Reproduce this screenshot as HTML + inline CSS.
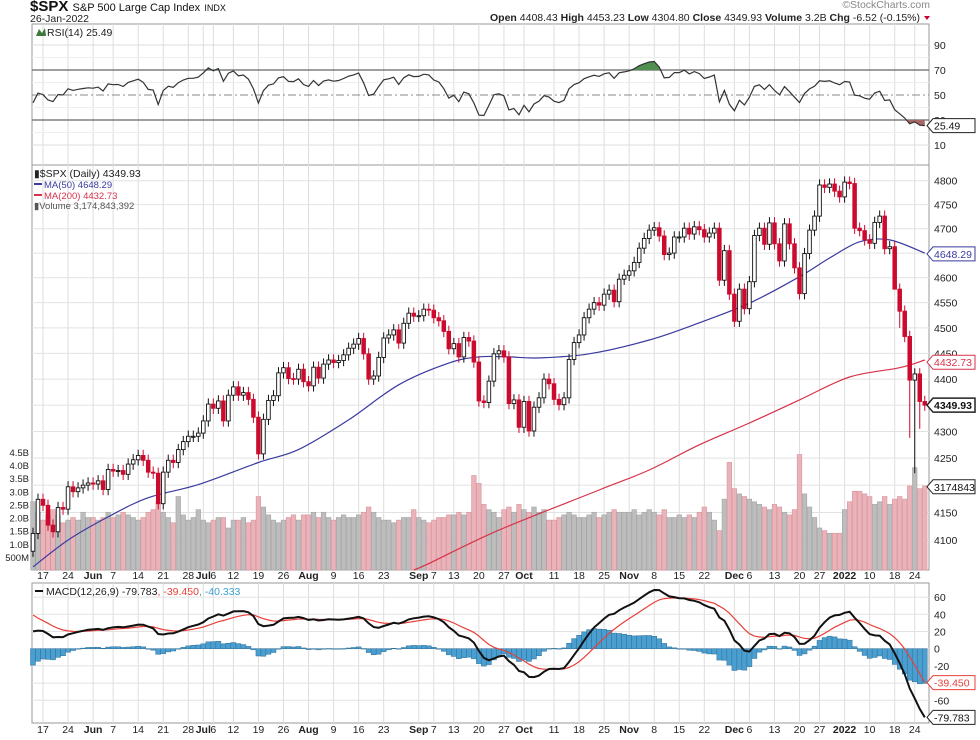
<!DOCTYPE html>
<html><head><meta charset="utf-8"><style>
html,body{margin:0;padding:0;background:#fff;}
svg{display:block;font-family:"Liberation Sans",sans-serif;}
</style></head><body>
<svg id="chart" width="980" height="740" viewBox="0 0 980 740" xmlns="http://www.w3.org/2000/svg">
<rect width="980" height="740" fill="#fff"/>
<g>
<text x="30" y="11" font-size="15" font-weight="bold" fill="#111">$SPX <tspan font-size="11" font-weight="normal">S&amp;P 500 Large Cap Index</tspan> <tspan font-size="9" font-weight="normal">INDX</tspan></text>
<text x="30" y="22" font-size="10.5" fill="#222">26-Jan-2022</text>
<text x="930" y="8" font-size="10.5" fill="#888" text-anchor="end">©StockCharts.com</text>
<text x="920" y="21" font-size="10.5" fill="#222" text-anchor="end"><tspan font-weight="bold">Open</tspan> 4408.43 <tspan font-weight="bold">High</tspan> 4453.23 <tspan font-weight="bold">Low</tspan> 4304.80 <tspan font-weight="bold">Close</tspan> 4349.93 <tspan font-weight="bold">Volume</tspan> 3.2B <tspan font-weight="bold">Chg</tspan> -6.52 (-0.15%)</text>
<path d="M924,16 L930,16 L927,20 Z" fill="#c03"/>
</g>
<g id="grid"></g>
<g id="marks"></g>
<g id="labels" font-size="10.5" fill="#222"></g>
</svg>
<script>
// ---- data ----
const holidays = ["2021-05-31","2021-07-05","2021-09-06","2021-11-25","2021-12-24","2022-01-17"];
const closes = [
4112,4174,4163,4127,4115,4159,4156,4197,4188,4195,4200,4204,
4202,4208,4192,4229,4226,4227,4220,4239,4247,4255,4246,4224,4222,4166,4224,4246,4242,4266,4281,4291,4291,4297,
4320,4352,4344,4358,4320,4369,4385,4369,4374,4361,4327,4258,4323,4359,4368,4412,4422,4401,4400,4419,4395,
4387,4423,4402,4429,4437,4432,4436,4447,4460,4468,4479,4449,4400,4406,4442,4480,4486,4496,4470,4509,4529,4523,
4524,4537,4535,4520,4514,4493,4459,4469,4443,4481,4474,4433,4358,4355,4396,4449,4455,4443,4353,4360,4308,
4357,4301,4346,4364,4400,4391,4361,4351,4364,4438,4471,4486,4520,4537,4550,4545,4567,4575,4552,4597,4605,
4614,4631,4660,4680,4697,4702,4685,4647,4650,4683,4683,4701,4689,4704,4698,4683,4691,4701,4595,4655,4567,
4513,4577,4538,4592,4686,4701,4668,4712,4669,4634,4710,4669,4620,4568,4649,4697,4726,4791,4786,4793,4778,4766,
4797,4794,4701,4696,4677,4670,4713,4726,4659,4663,4577,4533,4483,4398,4410,4357,4350];
const volumes = [
2.6,2.2,1.9,2.1,2.3,2.1,1.8,1.9,2.0,1.9,2.2,2.0,
2.0,1.9,2.0,2.2,2.0,2.1,2.2,2.1,2.0,1.9,2.0,2.2,2.3,2.6,2.2,2.0,1.8,2.8,2.1,1.9,2.0,2.3,
1.9,1.8,1.9,2.0,2.0,1.6,1.9,1.9,2.0,1.8,1.9,2.8,2.4,2.1,1.9,1.8,1.9,2.0,2.1,1.9,2.1,
2.1,2.2,2.0,2.2,2.0,1.9,2.0,2.1,2.0,2.0,2.1,2.2,2.4,2.2,2.0,1.9,1.9,1.8,1.9,2.0,2.0,2.3,
2.0,1.9,1.8,1.9,2.0,2.0,2.1,2.1,2.2,2.1,2.2,3.6,3.3,2.5,2.3,2.2,2.0,2.3,2.4,2.2,2.5,
2.3,2.2,2.4,2.2,2.3,1.9,1.9,2.0,2.1,2.2,2.1,2.0,2.0,2.1,2.2,2.0,2.1,2.2,2.3,2.2,2.2,
2.2,2.3,2.1,2.2,2.3,2.2,2.1,2.3,2.0,2.0,2.1,2.0,2.1,2.0,2.2,2.4,2.2,1.9,1.5,2.7,4.1,
3.1,2.9,2.8,2.7,2.6,2.5,2.4,2.3,2.5,2.4,2.2,2.1,2.3,4.4,2.9,2.4,2.0,1.6,1.5,1.4,1.4,1.4,
2.3,2.6,3.0,3.0,2.9,2.8,2.5,2.6,2.8,2.5,2.7,2.8,2.7,3.2,3.9,3.1,3.2];
const lowOverride = {176:4222, 177:4305, 172:4582, 173:4500, 175:4288};
const ma50Idx = [0,7,15,23,33,45,53,63,73,83,89,95,101,111,123,133,143,153,159,165,171,178];
const ma50Val = [4052,4100,4142,4177,4201,4242,4266,4322,4389,4431,4443,4443,4441,4449,4476,4510,4549,4602,4640,4673,4677,4650];
const ma200Idx = [76,79,93,113,123,133,143,153,163,173,178];
const ma200Val = [4045,4058,4118,4191,4228,4275,4316,4360,4404,4422,4437];
const labelDates = ["2021-05-17","2021-05-24","2021-06-01","2021-06-07","2021-06-14","2021-06-21","2021-06-28","2021-07-01","2021-07-06","2021-07-12","2021-07-19","2021-07-26","2021-08-02","2021-08-09","2021-08-16","2021-08-23","2021-09-01","2021-09-07","2021-09-13","2021-09-20","2021-09-27","2021-10-01","2021-10-11","2021-10-18","2021-10-25","2021-11-01","2021-11-08","2021-11-15","2021-11-22","2021-12-01","2021-12-06","2021-12-13","2021-12-20","2021-12-27","2022-01-03","2022-01-10","2022-01-18","2022-01-24"];
const labelText = ["17","24","Jun","7","14","21","28","Jul","6","12","19","26","Aug","9","16","23","Sep","7","13","20","27","Oct","11","18","25","Nov","8","15","22","Dec","6","13","20","27","2022","10","18","24"];
const priceTicks = [4100,4150,4200,4250,4300,4350,4400,4450,4500,4550,4600,4650,4700,4750,4800];
const volTicks = [0.5,1,1.5,2,2.5,3,3.5,4,4.5];
const volTickText = ["500M","1.0B","1.5B","2.0B","2.5B","3.0B","3.5B","4.0B","4.5B"];
const rsiTicks = [10,30,50,70,90];
const macdTicks = [-60,-40,-20,0,20,40,60];

// ---- scales ----
const L=32, Rr=929;
const X = i => 43 + (i-2)*5.01;
const P = p => 180.7 + 2280*Math.log(4800/p);
const V = v => 570 - v*26.25;
const RS = r => 95 + (50-r)*1.25;
const M = m => 648.7 - m*0.86;

// dates
const dates=[]; {let d=new Date(Date.UTC(2021,4,13));
 while(dates.length<closes.length){const s=d.toISOString().slice(0,10);const wd=d.getUTCDay();
  if(wd>0&&wd<6&&!holidays.includes(s))dates.push(s); d=new Date(d.getTime()+86400000);} }

const NS="http://www.w3.org/2000/svg";
function mk(parent,tag,attrs){const e=document.createElementNS(NS,tag);for(const k in attrs)e.setAttribute(k,attrs[k]);parent.appendChild(e);return e;}
const grid=document.getElementById('grid'), marks=document.getElementById('marks'), labs=document.getElementById('labels');

// panels
const panels=[[24,165,'rsi-panel'],[165,570,'price-panel'],[583,723,'macd-panel']];
panels.forEach(p=>{const r=mk(grid,'rect',{x:L,y:p[0],width:Rr-L,height:p[1]-p[0],fill:'#fff',stroke:'#999','stroke-width':1});

});

// vertical grid + x labels
labelDates.forEach((ds,k)=>{const i=dates.indexOf(ds);if(i<0)return;const x=X(i);
 panels.forEach(p=>{const g=mk(grid,'line',{x1:x,x2:x,y1:p[0],y2:p[1],stroke:'#ddd','stroke-width':1});
 
 });
 const bold=/[A-Za-z]|2022/.test(labelText[k]);
 [579,733].forEach(y=>{const t=mk(labs,'text',{x:x,y:y,'text-anchor':'middle','font-weight':bold?'bold':'normal'});t.textContent=labelText[k];
 
 });
});
// price grid
priceTicks.forEach(p=>{const y=P(p);const g=mk(grid,'line',{x1:L,x2:Rr,y1:y,y2:y,stroke:'#e2e2e2'});
 
 
 const t=mk(labs,'text',{x:934,y:y+4});t.textContent=p;
 
 });
volTicks.forEach((v,k)=>{const t=mk(labs,'text',{x:29,y:V(v)+4,'text-anchor':'end','font-size':'9.5'});t.textContent=volTickText[k];
 
 });
// rsi grid
[20,40,60,80].forEach(r=>{const g=mk(grid,'line',{x1:L,x2:Rr,y1:RS(r),y2:RS(r),stroke:'#eee'});
 
 });
rsiTicks.forEach(r=>{const y=RS(r);const dark=(r==30||r==70);const g=mk(grid,'line',{x1:L,x2:Rr,y1:y,y2:y,stroke:dark?'#666':(r==50?'#888':'#ddd'),'stroke-width':dark?1.2:1,'stroke-dasharray':r==50?'8,3,2,3':'none'});
 
 
 const t=mk(labs,'text',{x:934,y:y+4});t.textContent=r;
 
 });
// macd grid
macdTicks.forEach(m=>{const y=M(m);const g=mk(grid,'line',{x1:L,x2:Rr,y1:y,y2:y,stroke:'#e2e2e2'});
 
 
 const t=mk(labs,'text',{x:934,y:y+4});t.textContent=m;
 
 });

// volume bars
closes.forEach((c,i)=>{const down=i>0&&c<closes[i-1];const y=V(volumes[i]);
 const b=mk(marks,'rect',{x:X(i)-2.3,y:y,width:4.6,height:570-y,fill:down?'#e9b3b9':'#bdbdbd',stroke:down?'#d9959d':'#a5a5a5','stroke-width':0.6});
 
 });

// MA lines (smoothed through sampled points)
function pl(idx,val,color,name){const pts=idx.map((ii,k)=>[X(ii),Math.min(570,P(val[k]))]);
 let d='M'+pts[0][0].toFixed(1)+','+pts[0][1].toFixed(1);
 for(let k=1;k<pts.length;k++){const p0=pts[k-2]||pts[k-1],p1=pts[k-1],p2=pts[k],p3=pts[k+1]||p2;
  const c1x=p1[0]+(p2[0]-p0[0])/6,c1y=p1[1]+(p2[1]-p0[1])/6,c2x=p2[0]-(p3[0]-p1[0])/6,c2y=p2[1]-(p3[1]-p1[1])/6;
  d+=` C${c1x.toFixed(1)},${c1y.toFixed(1)} ${c2x.toFixed(1)},${c2y.toFixed(1)} ${p2[0].toFixed(1)},${p2[1].toFixed(1)}`;}
 const e=mk(marks,'path',{d:d,fill:'none',stroke:color,'stroke-width':1.2});
 
 }
pl(ma200Idx,ma200Val,'#d8324a','ma200-line');
pl(ma50Idx,ma50Val,'#3a3aa0','ma50-line');

// candles
closes.forEach((c,i)=>{const o=i>0?closes[i-1]:4080;const up=c>=o;const x=X(i);
 const hi=Math.max(o,c)*1.0025, lo=(lowOverride[i]||Math.min(o,c)*0.9975);
 const col=up?'#111':'#cc0a2e';
 const w=mk(marks,'line',{x1:x,x2:x,y1:P(hi),y2:P(lo),stroke:col,'stroke-width':1});
 
 
 const yt=P(Math.max(o,c)), yb=P(Math.min(o,c));
 const b=mk(marks,'rect',{x:x-1.8,y:yt,width:3.6,height:Math.max(1,yb-yt),fill:up?'#fff':'#cc0a2e',stroke:col,'stroke-width':0.9});
 
 });

// RSI computed from closes
let ag=14, al=18; const rsi=[];
closes.forEach((c,i)=>{const ch=i>0?c-closes[i-1]:0;ag=(ag*13+Math.max(ch,0))/14;al=(al*13+Math.max(-ch,0))/14;rsi.push(100-100/(1+ag/al));});
const rsiD=rsi.map((r,i)=>(i?'L':'M')+X(i).toFixed(1)+','+RS(r).toFixed(1)).join(' ');
const defs=mk(document.getElementById('chart'),'defs',{});
const c1=mk(defs,'clipPath',{id:'above70'});mk(c1,'rect',{x:L,y:24,width:Rr-L,height:RS(70)-24});
const c2=mk(defs,'clipPath',{id:'below30'});mk(c2,'rect',{x:L,y:RS(30),width:Rr-L,height:165-RS(30)});
const f1=mk(marks,'path',{d:rsiD+' L'+X(rsi.length-1)+','+RS(70)+' L'+X(0)+','+RS(70)+' Z',fill:'#4f8f4f','clip-path':'url(#above70)'});


const f2=mk(marks,'path',{d:rsiD+' L'+X(rsi.length-1)+','+RS(30)+' L'+X(0)+','+RS(30)+' Z',fill:'#a86868','clip-path':'url(#below30)'});


const rl=mk(marks,'path',{d:rsiD,fill:'none',stroke:'#333','stroke-width':1.2});



// MACD computed from closes
let e12=4150,e26=4125,sg=44;const mac=[],sig=[];
closes.forEach(c=>{e12=e12+(c-e12)*2/13;e26=e26+(c-e26)*2/27;const m=e12-e26;sg=sg+(m-sg)*0.2;mac.push(m);sig.push(sg);});
mac.forEach((m,i)=>{const h=m-sig[i];const y0=M(0),y1=M(h);
 const b=mk(marks,'rect',{x:X(i)-2.5,y:Math.min(y0,y1),width:5,height:Math.max(0.5,Math.abs(y1-y0)),fill:'#4a9fd0',stroke:'#2f6f98','stroke-width':0.5});
 
 });
const sl=mk(marks,'path',{d:sig.map((s,i)=>(i?'L':'M')+X(i).toFixed(1)+','+M(s).toFixed(1)).join(' '),fill:'none',stroke:'#e8403a','stroke-width':1.2});


const ml=mk(marks,'path',{d:mac.map((s,i)=>(i?'L':'M')+X(i).toFixed(1)+','+M(s).toFixed(1)).join(' '),fill:'none',stroke:'#111','stroke-width':2});



// value boxes
function box(y,txt,col,bold,name){const g=mk(labs,'g',{});
 
 
 mk(g,'path',{d:`M927,${y} L933,${y-7} L975,${y-7} L975,${y+7} L933,${y+7} Z`,fill:'#fff',stroke:col,'stroke-width':bold?1.5:1});
 const t=mk(g,'text',{x:934,y:y+4,fill:col==='#222'?'#111':col,'font-weight':bold?'bold':'normal','font-size':'10.5'});t.textContent=txt;}
box(P(4648.29),'4648.29','#3a3aa0',false,'ma50-value-box');
box(P(4432.73),'4432.73','#d8324a',false,'ma200-value-box');
box(P(4349.93),'4349.93','#222',true,'close-value-box');
box(V(3.17),'3174843','#222',false,'volume-value-box');
box(RS(25.49),'25.49','#222',false,'rsi-value-box');
box(M(-39.45),'-39.450','#e8403a',false,'signal-value-box');
box(M(-79.783),'-79.783','#222',false,'macd-value-box');

// legends
function txt(x,y,s,col,name,size){const t=mk(labs,'text',{x:x,y:y,fill:col,'font-size':size||'10.5'});t.textContent=s;
 
 return t;}
mk(labs,'path',{d:'M36,36 L39,29 L42,33 L45,28 L46,36 Z',fill:'#3c7a3c'});
txt(47,36,'RSI(14) 25.49','#222','rsi-legend');
txt(34,177,'▮$SPX (Daily) 4349.93','#222','price-legend');
mk(labs,'line',{x1:34,x2:42,y1:184,y2:184,stroke:'#3a3aa0','stroke-width':2});
txt(44,188,'MA(50) 4648.29','#3a3aa0','ma50-legend','9.5');
mk(labs,'line',{x1:34,x2:42,y1:195,y2:195,stroke:'#d8324a','stroke-width':2});
txt(44,199,'MA(200) 4432.73','#d8324a','ma200-legend','9.5');
txt(34,209,'▮Volume 3,174,843,392','#555','volume-legend','9.5');
mk(labs,'line',{x1:35,x2:43,y1:591,y2:591,stroke:'#111','stroke-width':2});
const mt=txt(46,595,'MACD(12,26,9) -79.783','#222','macd-legend');
const s1=mk(mt,'tspan',{fill:'#e8403a'});s1.textContent=', -39.450';
const s2=mk(mt,'tspan',{fill:'#3a9fd0'});s2.textContent=', -40.333';
</script>
</body></html>
